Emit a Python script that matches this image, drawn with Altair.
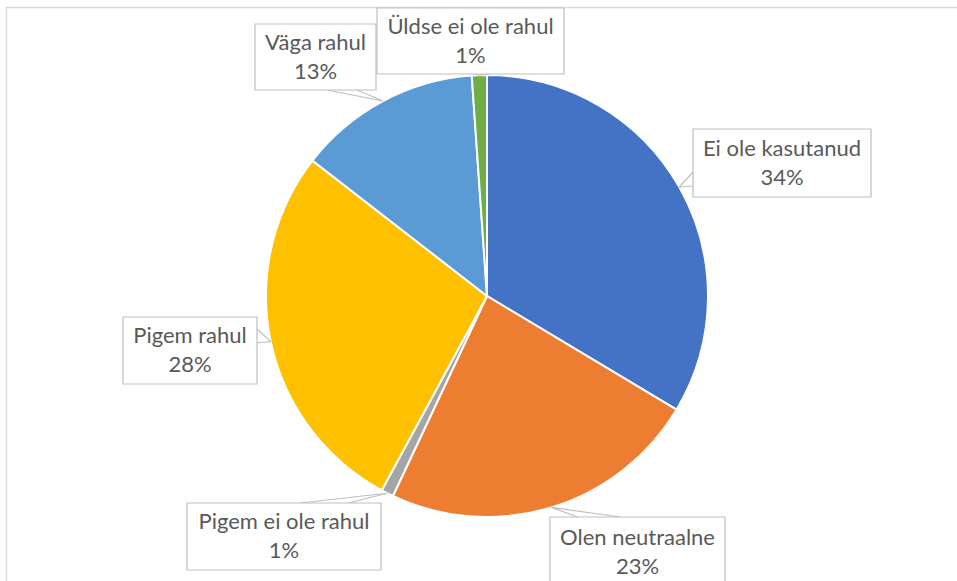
import altair as alt
import pandas as pd
import numpy as np

# ---- data ----
categories = ["Ei ole kasutanud", "Olen neutraalne", "Pigem ei ole rahul",
              "Pigem rahul", "Väga rahul", "Üldse ei ole rahul"]
shares = [33.6, 23.4, 0.9, 27.6, 13.4, 1.1]
colors = ["#4472C4", "#ED7D31", "#A5A5A5", "#FFC000", "#5B9BD5", "#70AD47"]

# ---- layout (pixels) ----
W, H = 957, 581
CX, CY, R = 487, 296, 221
LINE_H = 29
# callout boxes: x0, y0, x1, y1
box_layout = {
    "Ei ole kasutanud":   (693, 129, 871, 197),
    "Olen neutraalne":    (550, 517, 725, 587),
    "Pigem ei ole rahul": (187, 503, 381, 570),
    "Pigem rahul":        (123, 317, 257, 384),
    "Väga rahul":         (255, 24, 376, 90),
    "Üldse ei ole rahul": (377, 8, 564, 74),
}
# pointer base points on the box edge
pointer_base = {
    "Ei ole kasutanud":   ((693, 172), (693, 186)),
    "Olen neutraalne":    ((578, 517), (620, 517)),
    "Pigem ei ole rahul": ((300, 503), (348, 503)),
    "Pigem rahul":        ((257, 329), (257, 343)),
    "Väga rahul":         ((327, 90), (357, 90)),
    "Üldse ei ole rahul": ((474, 74), (490, 74)),
}

total = sum(shares)
cum = np.cumsum([0] + shares)
pie_df = pd.DataFrame({
    "category": categories,
    "share": shares,
    "order": list(range(len(categories))),
})

box_rows, ptr_rows = [], []
for i, cat in enumerate(categories):
    mid = (cum[i] + shares[i] / 2) / total * 2 * np.pi
    tx = CX + R * np.sin(mid)
    ty = CY - R * np.cos(mid)
    x0, y0, x1, y1 = box_layout[cat]
    pct = int(round(shares[i] / total * 100))
    box_rows.append({"category": cat, "x0": x0, "x1": x1, "y0": y0, "y1": y1,
                     "xc": (x0 + x1) / 2, "yc": (y0 + y1) / 2,
                     "label": f"{cat}\n{pct}%"})
    b1, b2 = pointer_base[cat]
    for k, (px, py) in enumerate([b1, (tx, ty), b2]):
        ptr_rows.append({"category": cat, "seq": k, "px": px, "py": py})

box_df = pd.DataFrame(box_rows)
ptr_df = pd.DataFrame(ptr_rows)
frame_df = pd.DataFrame({"x0": [6.5], "y0": [7.5], "x1": [W + 10], "y1": [H + 10]})

xs = alt.Scale(domain=[0, W], range=[0, W], nice=False, zero=False)
ys = alt.Scale(domain=[0, H], range=[0, H], nice=False, zero=False)

frame = alt.Chart(frame_df).mark_rect(fill=None, stroke="#D9D9D9", strokeWidth=1.3).encode(
    x=alt.X("x0:Q", scale=xs, axis=None), x2="x1:Q",
    y=alt.Y("y0:Q", scale=ys, axis=None), y2="y1:Q",
)

pie = alt.Chart(pie_df).mark_arc(radius=R, stroke="white", strokeWidth=2).encode(
    theta=alt.Theta("share:Q", stack=True),
    order=alt.Order("order:Q"),
    color=alt.Color("category:N", scale=alt.Scale(domain=categories, range=colors), legend=None),
    x=alt.value(CX), y=alt.value(CY),
)

pointers = alt.Chart(ptr_df).mark_line(color="#BFBFBF", strokeWidth=1.2).encode(
    x=alt.X("px:Q", scale=xs, axis=None),
    y=alt.Y("py:Q", scale=ys, axis=None),
    detail="category:N",
    order="seq:Q",
)

boxes = alt.Chart(box_df).mark_rect(fill="white", stroke="#BFBFBF", strokeWidth=1.2).encode(
    x=alt.X("x0:Q", scale=xs, axis=None), x2="x1:Q",
    y=alt.Y("y0:Q", scale=ys, axis=None), y2="y1:Q",
)

texts = alt.Chart(box_df).mark_text(
    lineBreak="\n", lineHeight=LINE_H, font="Lato", fontSize=22, color="#595959",
    align="center", baseline="middle", dy=-LINE_H / 2,
).encode(
    x=alt.X("xc:Q", scale=xs, axis=None),
    y=alt.Y("yc:Q", scale=ys, axis=None),
    text="label:N",
)

chart = alt.layer(frame, pie, pointers, boxes, texts).properties(
    width=W, height=H, padding=0, autosize="none", background="white"
).configure_view(stroke=None)

chart.save("out.html", embed_options={"renderer": "svg", "actions": False})
